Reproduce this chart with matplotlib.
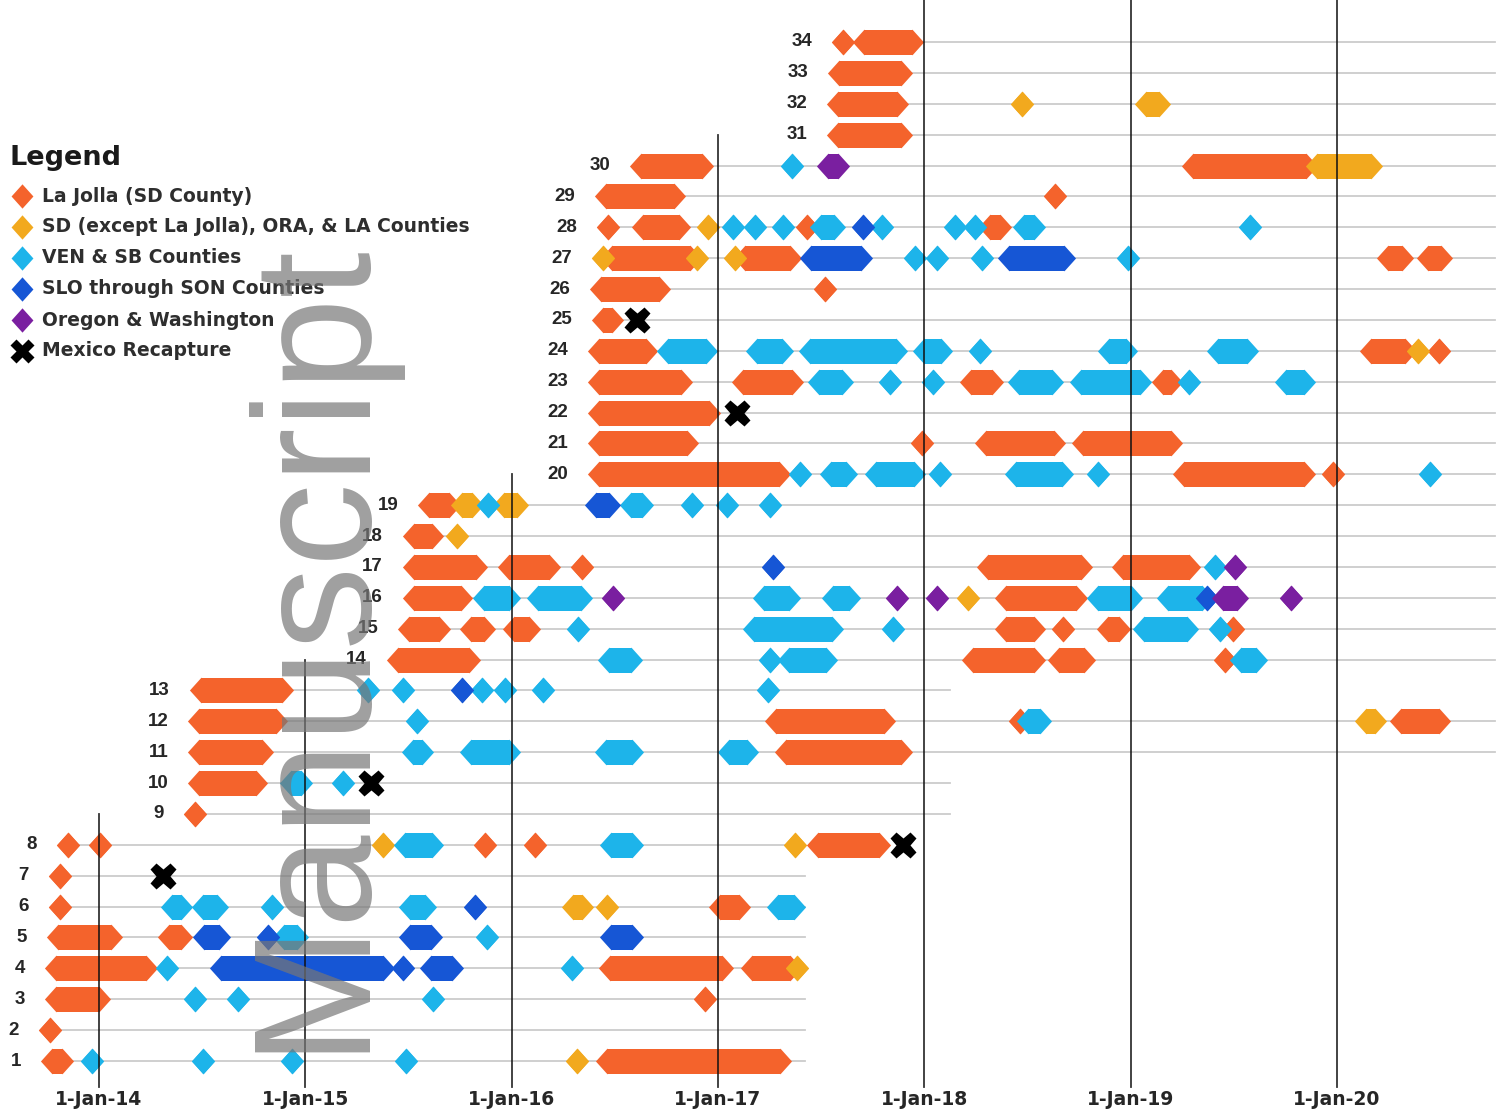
import numpy as np
import matplotlib.pyplot as plt
from matplotlib.path import Path

# sightings per region: (row, first, last) in decimal years, (row, t) for a single sighting
la_jolla = [
    (1, 2013.772, 2013.821), (1, 2016.462, 2017.301),
    (2, 2013.762),
    (3, 2013.792, 2014.0), (3, 2016.937),
    (4, 2013.792, 2014.228), (4, 2016.477, 2017.020), (4, 2017.165, 2017.349),
    (5, 2013.801, 2014.058), (5, 2014.339, 2014.397),
    (6, 2013.811), (6, 2017.010, 2017.102),
    (7, 2013.811),
    (8, 2013.850), (8, 2014.005), (8, 2015.871), (8, 2016.113), (8, 2017.485, 2017.781),
    (9, 2014.465),
    (10, 2014.485, 2014.761),
    (11, 2014.485, 2014.790), (11, 2017.330, 2017.888),
    (12, 2014.485, 2014.858), (12, 2017.282, 2017.805), (12, 2018.464), (12, 2020.311, 2020.496),
    (13, 2014.494, 2014.887),
    (14, 2015.449, 2015.794), (14, 2018.237, 2018.532), (14, 2018.653, 2018.775), (14, 2019.458),
    (15, 2015.503, 2015.648), (15, 2015.803, 2015.866), (15, 2016.012, 2016.084),
    (15, 2018.397, 2018.532), (15, 2018.673), (15, 2018.891, 2018.944), (15, 2019.497),
    (16, 2015.527, 2015.755), (16, 2018.397, 2018.736),
    (17, 2015.527, 2015.827), (17, 2015.987, 2016.181), (17, 2016.341),
    (17, 2018.309, 2018.760), (17, 2018.964, 2019.284),
    (18, 2015.527, 2015.614),
    (19, 2015.600, 2015.697),
    (20, 2016.424, 2017.296), (20, 2019.259, 2019.841), (20, 2019.982),
    (21, 2016.424, 2016.850), (21, 2017.989), (21, 2018.300, 2018.629), (21, 2018.770, 2019.196),
    (22, 2016.424, 2016.957),
    (23, 2016.424, 2016.821), (23, 2017.122, 2017.359), (23, 2018.227, 2018.329), (23, 2019.158, 2019.196),
    (24, 2016.424, 2016.651), (24, 2020.166, 2020.331), (24, 2020.496),
    (25, 2016.443, 2016.487),
    (26, 2016.433, 2016.714), (26, 2017.519),
    (27, 2016.487, 2016.865), (27, 2017.131, 2017.349), (27, 2020.248, 2020.316), (27, 2020.442, 2020.505),
    (28, 2016.467), (28, 2016.637, 2016.811), (28, 2017.432), (28, 2018.319, 2018.367),
    (29, 2016.458, 2016.787), (29, 2018.634),
    (30, 2016.627, 2016.923), (30, 2019.303, 2019.851),
    (31, 2017.582, 2017.888),
    (32, 2017.582, 2017.868),
    (33, 2017.587, 2017.888),
    (34, 2017.606), (34, 2017.708, 2017.941),
]

sd_ora_la = [
    (1, 2016.317), (4, 2017.383), (6, 2016.298, 2016.341), (6, 2016.462),
    (8, 2015.377), (8, 2017.374), (12, 2020.142, 2020.185), (16, 2018.212),
    (18, 2015.735), (19, 2015.760, 2015.808), (19, 2015.963, 2016.026),
    (24, 2020.394), (27, 2016.443), (27, 2016.899), (27, 2017.083), (28, 2016.952),
    (30, 2019.904, 2020.166), (32, 2018.474), (32, 2019.075, 2019.138),
]

ven_sb = [
    (1, 2013.966), (1, 2014.504), (1, 2014.936), (1, 2015.488),
    (3, 2014.465), (3, 2014.674), (3, 2015.619),
    (4, 2014.330), (4, 2016.293),
    (5, 2014.897, 2014.960), (5, 2015.881),
    (6, 2014.354, 2014.397), (6, 2014.504, 2014.572), (6, 2014.839), (6, 2015.507, 2015.580),
    (6, 2017.291, 2017.369),
    (8, 2015.483, 2015.614), (8, 2016.482, 2016.584),
    (10, 2014.931, 2014.979), (10, 2015.183),
    (11, 2015.522, 2015.566), (11, 2015.803, 2015.987), (11, 2016.458, 2016.584), (11, 2017.054, 2017.141),
    (12, 2015.541), (12, 2018.503, 2018.561),
    (13, 2015.304), (13, 2015.474), (13, 2015.857), (13, 2015.968), (13, 2016.152), (13, 2017.243),
    (14, 2016.472, 2016.579), (14, 2017.252), (14, 2017.345, 2017.524), (14, 2019.536, 2019.608),
    (15, 2016.322), (15, 2017.175, 2017.553), (15, 2017.849), (15, 2019.065, 2019.274), (15, 2019.434),
    (16, 2015.866, 2015.987), (16, 2016.128, 2016.336), (16, 2017.223, 2017.345), (16, 2017.558, 2017.635),
    (16, 2018.842, 2019.002), (16, 2019.182, 2019.347),
    (17, 2019.410),
    (19, 2015.886), (19, 2016.579, 2016.632), (19, 2016.874), (19, 2017.044), (19, 2017.252),
    (20, 2017.398), (20, 2017.548, 2017.621), (20, 2017.766, 2017.951), (20, 2018.077),
    (20, 2018.445, 2018.668), (20, 2018.842), (20, 2020.452),
    (23, 2017.490, 2017.602), (23, 2017.834), (23, 2018.043), (23, 2018.459, 2018.619),
    (23, 2018.760, 2019.046), (23, 2019.284), (23, 2019.754, 2019.841),
    (24, 2016.758, 2016.942), (24, 2017.190, 2017.311), (24, 2017.446, 2017.863), (24, 2017.999, 2018.081),
    (24, 2018.270), (24, 2018.896, 2018.978), (24, 2019.424, 2019.565),
    (27, 2017.955), (27, 2018.062), (27, 2018.280), (27, 2018.988),
    (28, 2017.073), (28, 2017.180), (28, 2017.316), (28, 2017.500, 2017.563), (28, 2017.795),
    (28, 2018.149), (28, 2018.246), (28, 2018.484, 2018.532), (28, 2019.579),
    (30, 2017.359),
]

slo_son = [
    (4, 2014.591, 2015.377), (4, 2015.474), (4, 2015.609, 2015.711),
    (5, 2014.509, 2014.582), (5, 2014.819), (5, 2015.507, 2015.609), (5, 2016.482, 2016.584),
    (6, 2015.823), (13, 2015.760), (16, 2019.371), (17, 2017.267),
    (19, 2016.409, 2016.472), (27, 2017.451, 2017.694), (27, 2018.411, 2018.678), (28, 2017.703),
]

or_wa = [
    (16, 2016.492), (16, 2017.868), (16, 2018.062), (16, 2019.448, 2019.516), (16, 2019.778),
    (17, 2019.507), (30, 2017.534, 2017.582),
]

mexico = [(7, 2014.310), (8, 2017.897), (10, 2015.318), (22, 2017.093), (25, 2016.608)]

# end of each row's gray track
row_end = {r: 2017.42 for r in range(1, 9)}
row_end.update({9: 2018.125, 10: 2018.125, 13: 2018.125})
row_end.update({r: 2020.767 for r in [11, 12] + list(range(14, 35))})

years = [2014, 2015, 2016, 2017, 2018, 2019, 2020]
year_labels = ['1-Jan-14', '1-Jan-15', '1-Jan-16', '1-Jan-17', '1-Jan-18', '1-Jan-19', '1-Jan-20']
year_line_top = [9, 14, 20, 31, 35.4, 35.4, 35.4]

legend_names = ['La Jolla (SD County)', 'SD (except La Jolla), ORA, & LA Counties',
                'VEN & SB Counties', 'SLO through SON Counties', 'Oregon & Washington',
                'Mexico Recapture']
colors = ['#F4632C', '#F2A91E', '#1DB4EA', '#1656D5', '#7A1FA0', 'black']

W, H = 1507, 1119
fig = plt.figure(figsize=(W / 100, H / 100), dpi=100)
ax = fig.add_axes([0, 0, 1, 1])
ax.axis('off')
ax.set_xlim(2013.520, 2020.825)
ax.set_ylim(-0.878, 35.36)

diamond = Path([(0, 1), (0.9, 0), (0, -1), (-0.9, 0), (0, 1)],
               [Path.MOVETO, Path.LINETO, Path.LINETO, Path.LINETO, Path.CLOSEPOLY])
MS = 18.5
BAR_LW = 18

all_sets = [la_jolla, sd_ora_la, ven_sb, slo_son, or_wa, mexico]
first_seen = {}
for s in all_sets:
    for seg in s:
        first_seen[seg[0]] = min(first_seen.get(seg[0], 9999), seg[1])

# row tracks + labels
for r, t0 in first_seen.items():
    ax.plot([t0, row_end[r]], [r, r], color='#cccccc', lw=1.3, zorder=1)
    ax.text(t0 - 0.15, r, str(r), ha='right', va='center', fontsize=13.5,
            fontweight='bold', color='#262626', family='Liberation Sans')


def draw(segs, color, z):
    for seg in segs:
        r, t0 = seg[0], seg[1]
        t1 = seg[2] if len(seg) > 2 else t0
        if t1 > t0:
            ax.plot([t0, t1], [r, r], color=color, lw=BAR_LW, solid_capstyle='butt', zorder=z)
        ax.plot([t0, t1], [r, r], ls='none', marker=diamond, ms=MS, mfc=color, mec='none', zorder=z)


draw(la_jolla, colors[0], 3)
draw(sd_ora_la, colors[1], 3)
draw(ven_sb, colors[2], 3)
draw(slo_son, colors[3], 3)
draw(or_wa, colors[4], 4)
for r, t in mexico:
    ax.plot(t, r, marker='X', ms=19, mfc='black', mec='none', zorder=5)

for y, top, lab in zip(years, year_line_top, year_labels):
    ax.plot([y, y], [0.15, top], color='#111111', lw=1.3, alpha=0.85, zorder=6)
    ax.text(y, -0.26, lab, ha='center', va='center', fontsize=13.5,
            fontweight='bold', color='#262626')

# legend
fig.text(10 / W, 1 - 158 / H, 'Legend', ha='left', va='center', fontsize=19.5,
         fontweight='bold', color='#1a1a1a')
for i, (name, c) in enumerate(zip(legend_names, colors)):
    yf = 1 - (196 + 31 * i) / H
    if i < 5:
        ax.plot(22 / W, yf, marker=diamond, ms=MS - 1, mfc=c, mec='none', transform=ax.transAxes)
    else:
        ax.plot(22 / W, yf, marker='X', ms=17, mfc=c, mec='none', transform=ax.transAxes)
    fig.text(42 / W, yf, name, ha='left', va='center', fontsize=13.5,
             fontweight='bold', color='#2e2e2e')

# watermark
fig.text(357 / W, 1 - 1052 / H, 'Manuscript', rotation=90, rotation_mode='anchor',
         ha='left', va='baseline', fontsize=120, family='Liberation Sans',
         color='#777777', alpha=0.7, zorder=10)

fig.savefig('out.png', dpi=100)
